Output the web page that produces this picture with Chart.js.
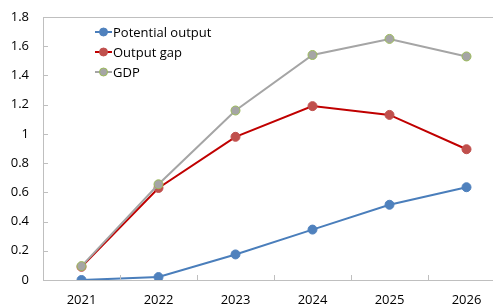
<!DOCTYPE html>
<html>
<head>
<meta charset="utf-8">
<script src="https://cdn.jsdelivr.net/npm/chart.js@4"></script>
<style>
    html, body { margin: 0; padding: 0; background: #fff; overflow: hidden; }
    #wrap { position: relative; width: 515px; height: 307px; }
</style>
</head>
<body>
<div id="wrap"><canvas id="chart"></canvas></div>
<script>
// Chart data
const years = ['2021', '2022', '2023', '2024', '2025', '2026'];
const potentialOutput = [0, 0.02, 0.175, 0.345, 0.515, 0.635];
const outputGap = [0.09, 0.63, 0.98, 1.19, 1.13, 0.895];
const gdp = [0.095, 0.655, 1.16, 1.54, 1.65, 1.53];
const yTicks = [0, 0.2, 0.4, 0.6, 0.8, 1, 1.2, 1.4, 1.6, 1.8];

const axisColor = '#bfbfbf';
const font = { family: "'Open Sans', 'Noto Sans', sans-serif", size: 13 };

// Excel-style inside tick marks
const insideTicks = {
    id: 'insideTicks',
    afterDraw(chart) {
        const { ctx, chartArea, scales } = chart;
        ctx.save();
        ctx.strokeStyle = axisColor;
        ctx.lineWidth = 1;
        ctx.beginPath();
        scales.y.ticks.forEach((t, i) => {
            const y = Math.round(scales.y.getPixelForTick(i)) + 0.5;
            ctx.moveTo(chartArea.left, y);
            ctx.lineTo(chartArea.left + 5, y);
        });
        for (let i = 1; i < years.length; i++) {
            const x = Math.round((scales.x.getPixelForValue(i - 1) + scales.x.getPixelForValue(i)) / 2) + 0.5;
            ctx.moveTo(x, chartArea.bottom);
            ctx.lineTo(x, chartArea.bottom - 5);
        }
        ctx.stroke();
        ctx.restore();
    }
};

// Legend stacked inside the plot, top left
const insideLegend = {
    id: 'insideLegend',
    afterDraw(chart) {
        const { ctx } = chart;
        const x0 = 95, y0 = 32, rowH = 20;
        ctx.save();
        ctx.font = `${font.size}px ${font.family}`;
        ctx.textBaseline = 'middle';
        chart.data.datasets.forEach((ds, i) => {
            const y = y0 + i * rowH;
            ctx.strokeStyle = ds.borderColor;
            ctx.lineWidth = 2;
            ctx.beginPath();
            ctx.moveTo(x0, y);
            ctx.lineTo(x0 + 17, y);
            ctx.stroke();
            ctx.beginPath();
            ctx.arc(x0 + 8.5, y, 4, 0, Math.PI * 2);
            ctx.fillStyle = ds.pointBackgroundColor;
            ctx.fill();
            ctx.lineWidth = 1;
            ctx.strokeStyle = ds.pointBorderColor;
            ctx.stroke();
            ctx.fillStyle = '#000';
            ctx.fillText(ds.label, x0 + 18, y + 1);
        });
        ctx.restore();
    }
};

new Chart(document.getElementById('chart'), {
    type: 'line',
    data: {
        labels: years,
        datasets: [
            {
                label: 'Potential output',
                data: potentialOutput,
                borderColor: '#4a7ebb',
                pointBackgroundColor: '#4f81bd',
                pointBorderColor: '#4f81bd',
                order: 2
            },
            {
                label: 'Output gap',
                data: outputGap,
                borderColor: '#c00000',
                pointBackgroundColor: '#c0504d',
                pointBorderColor: '#c0504d',
                order: 1
            },
            {
                label: 'GDP',
                data: gdp,
                borderColor: '#a5a5a5',
                pointBackgroundColor: '#a5a5a5',
                pointBorderColor: '#9bbb59',
                order: 0
            }
        ]
    },
    options: {
        responsive: true,
        maintainAspectRatio: false,
        animation: false,
        layout: { padding: { top: 17, right: 10, left: 0, bottom: 0 } },
        elements: {
            line: { borderWidth: 2, tension: 0 },
            point: { radius: 4.5, borderWidth: 1, hoverRadius: 4.5 }
        },
        plugins: {
            legend: { display: false },
            tooltip: { enabled: false }
        },
        scales: {
            x: {
                offset: true,
                grid: { display: false, drawTicks: false },
                border: { color: axisColor },
                ticks: { color: '#000', font, padding: 12, maxRotation: 0 },
                afterFit: s => { s.height = 27; }
            },
            y: {
                min: 0,
                max: 1.8,
                afterBuildTicks: s => { s.ticks = yTicks.map(v => ({ value: v })); },
                grid: {
                    drawTicks: false,
                    color: c => (c.tick && c.tick.value === 1.8 ? axisColor : 'rgba(0,0,0,0)')
                },
                border: { color: axisColor },
                ticks: { color: '#000', font, padding: 14, callback: v => String(v) },
                afterFit: s => {
                    s.width = 43;
                    s.paddingTop = 0;
                    s.paddingBottom = 0;
                }
            }
        }
    },
    plugins: [insideTicks, insideLegend]
});
</script>
</body>
</html>
